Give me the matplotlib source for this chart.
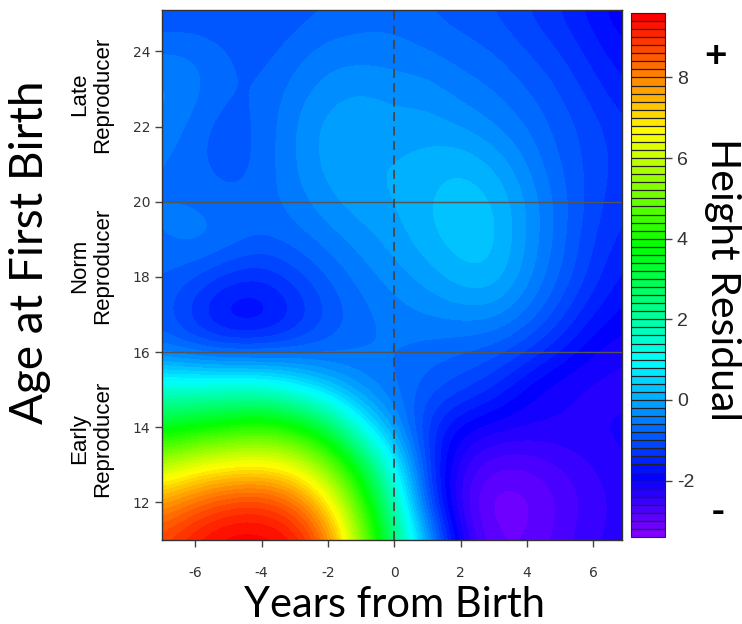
import numpy as np
import matplotlib as mpl
from matplotlib import pyplot as plt
from matplotlib import font_manager
from matplotlib.colors import ListedColormap, Normalize, hsv_to_rgb

# grid of the smoothed surface
years = [-7, -6, -5, -4, -3, -2, -1, 0, 1, 2, 3, 4, 5, 6, 7]
ages = [25, 24, 23, 22, 21, 20, 19, 18, 17, 16, 15, 14, 13, 12, 11]
residual = [
    [-1.0, -1.0, -1.0, -1.0, -0.9, -0.8, -0.7, -0.7, -0.8, -0.9, -1.0, -1.2, -1.4, -1.7, -2.0],  # 25
    [-0.6, -0.6, -0.8, -0.9, -0.7, -0.5, -0.5, -0.5, -0.6, -0.7, -0.8, -1.0, -1.2, -1.5, -1.8],  # 24
    [-0.3, -0.5, -0.8, -0.8, -0.5, -0.3, -0.2, -0.3, -0.3, -0.5, -0.6, -0.8, -1.0, -1.3, -1.6],  # 23
    [-0.4, -0.7, -0.95, -0.75, -0.4, -0.1, 0.0, -0.1, -0.1, -0.2, -0.4, -0.6, -0.9, -1.1, -1.4], # 22
    [-0.6, -0.75, -0.95, -0.75, -0.4, -0.1, 0.0, 0.0, 0.1, 0.2, 0.0, -0.4, -0.8, -1.1, -1.3],    # 21
    [-0.6, -0.6, -0.75, -0.7, -0.5, -0.25, -0.05, 0.0, 0.2, 0.35, 0.25, -0.2, -0.7, -1.1, -1.4], # 20
    [-0.6, -0.45, -0.6, -0.8, -0.7, -0.5, -0.3, -0.1, 0.15, 0.35, 0.3, -0.2, -0.7, -1.2, -1.5],  # 19
    [-0.8, -1.0, -1.3, -1.4, -1.1, -0.8, -0.5, -0.3, -0.1, 0.15, 0.2, -0.3, -0.8, -1.3, -1.7],   # 18
    [-0.9, -1.4, -1.9, -1.9, -1.5, -1.0, -0.7, -0.5, -0.4, -0.3, -0.3, -0.6, -1.1, -1.6, -1.9],  # 17
    [-0.6, -0.8, -0.9, -0.9, -0.8, -0.7, -0.6, -0.6, -0.7, -0.8, -0.9, -1.2, -1.6, -2.0, -2.2],  # 16
    [1.5, 1.5, 1.5, 1.5, 1.0, 0.3, -0.3, -0.6, -0.9, -1.1, -1.4, -1.9, -2.2, -2.3, -2.3],        # 15
    [3.4, 3.8, 4.1, 4.4, 4.0, 3.0, 1.0, -0.2, -1.3, -1.9, -2.1, -2.2, -2.2, -2.2, -2.1],         # 14
    [5.8, 6.4, 6.7, 6.8, 6.4, 5.2, 3.3, 0.9, -1.2, -2.4, -2.8, -2.8, -2.6, -2.4, -2.2],          # 13
    [7.8, 8.4, 8.8, 8.9, 8.4, 7.0, 4.5, 1.8, -1.0, -2.6, -3.2, -3.1, -2.8, -2.5, -2.3],          # 12
    [8.8, 9.3, 9.6, 9.6, 9.4, 8.3, 5.5, 2.5, 0.0, -2.2, -3.0, -3.0, -2.7, -2.4, -2.3],           # 11
]

zmin, zmax, zstep = -3.4, 9.6, 0.2
cbar_ticks = [-2, 0, 2, 4, 6, 8]
x_ticks = [-6, -4, -2, 0, 2, 4, 6]
y_ticks = [12, 14, 16, 18, 20, 22, 24]
group_labels = ['Late\nReproducer', 'Norm\nReproducer', 'Early\nReproducer']
group_ages = [22.85, 18.3, 13.7]
cut_ages = [16, 20]

plt.rcParams['axes.unicode_minus'] = False

# narrow sans for the small labels if we have it
names = set(f.name for f in font_manager.fontManager.ttflist)
narrow = 'Liberation Sans Narrow' if 'Liberation Sans Narrow' in names else 'Liberation Sans'

# rainbow palette, purple at the bottom, red on top
nband = int(round((zmax - zmin) / zstep))
hues = np.linspace(0.75, 0.0, nband)
cols = hsv_to_rgb(np.column_stack([hues, np.ones(nband), np.ones(nband)]))
cmap = ListedColormap(cols)
norm = Normalize(vmin=zmin, vmax=zmax)

fig = plt.figure(figsize=(7.42, 6.24), dpi=100)
ax = fig.add_axes([162/742., 84/624., 460/742., 530/624.])
cax = fig.add_axes([631/742., 87/624., 34/742., 524/624.])

Z = np.array(residual)
ax.imshow(Z, cmap=cmap, norm=norm, interpolation='bicubic', interpolation_stage='data',
          extent=[years[0]-0.5, years[-1]+0.5, ages[-1]-0.5, ages[0]+0.5],
          aspect='auto', origin='upper')
ax.set_xlim(-7, 6.86)
ax.set_ylim(11, 25.1)
for a in cut_ages:
    ax.axhline(a, color='#555555', lw=1)
ax.axvline(0, color='#444444', lw=1.3, ls=(0, (5, 3)))

ax.set_xticks(x_ticks)
ax.set_yticks(y_ticks)
ax.tick_params(direction='out', length=5, width=1, color='#444444', labelcolor='#333333',
               labelsize=10)
ax.tick_params(axis='x', pad=14)
for s in ax.spines.values():
    s.set_color('#333333')
    s.set_linewidth(1)

fig.text(395/742., 1 - 617/624., 'Years from Birth', family='Lato', fontsize=30,
         ha='center', va='baseline')
fig.text(30/742., 1 - 252/624., 'Age at First Birth', family='Lato', fontsize=33,
         rotation=90, ha='center', va='center')
for lab, a in zip(group_labels, group_ages):
    ypos = ax.transData.transform((0, a))[1] / fig.bbox.height
    fig.text(91/742., ypos, lab, family=narrow, fontsize=16, rotation=90,
             ha='center', va='center', linespacing=1.15)

cb = fig.colorbar(mpl.cm.ScalarMappable(norm=norm, cmap=cmap), cax=cax, drawedges=True)
cb.dividers.set_color('#222222')
cb.dividers.set_linewidth(0.9)
cb.outline.set_edgecolor('#222222')
cb.set_ticks(cbar_ticks)
cax.tick_params(length=5, width=1, color='#444444', labelcolor='#333333', labelsize=14)
for t in cax.get_yticklabels():
    t.set_family(narrow)

fig.text(722/742., 1 - 280/624., 'Height Residual', family='Lato', fontsize=29.5,
         rotation=-90, ha='center', va='center')
fig.text(716/742., 1 - 55/624., '+', family='Lato', fontsize=28, weight='bold',
         ha='center', va='center')
fig.text(718/742., 1 - 512/624., '-', family='Lato', fontsize=28, weight='bold',
         ha='center', va='center')

fig.savefig('out.png', dpi=100)
